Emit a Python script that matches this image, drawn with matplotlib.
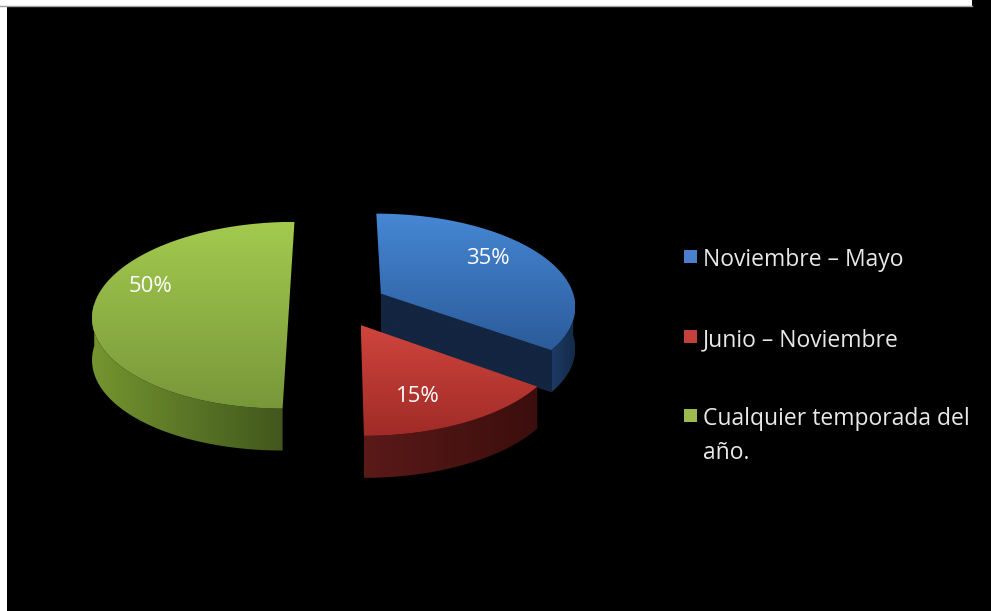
import numpy as np
import matplotlib
matplotlib.use('Agg')
import matplotlib.pyplot as plt
from matplotlib.patches import Polygon, Rectangle
from matplotlib.colors import LinearSegmentedColormap

# datos del grafico
categorias = ['Noviembre – Mayo', 'Junio – Noviembre', 'Cualquier temporada del\naño.']
valores = [35, 15, 50]
etiquetas = ['%d%%' % v for v in valores]

# colores: (cara superior arriba, abajo), (lateral izq, der), (corte), leyenda
col_top = [('#4687d4', '#2b5b9a'), ('#cf453d', '#a12b27'), ('#a3ca4e', '#78973a')]
col_side = [('#1d3b66', '#142b48'), ('#5a1a18', '#3b0e0d'), ('#74952f', '#41571d')]
col_cut = ['#132540', '#3a0e0d', '#4a6022']
col_leg = ['#4a7fcb', '#c4403a', '#9bbb4f']

# geometria de la torta 3D
CX, CY = 338, 304
RX, RY = 195, 92
K = 0.12
PROF = 42
EXPL = 0.25

def proj(X, Z):
    s = 1.0 / (1.0 + K * Z)
    return CX + RX * X * s, CY - RY * Z * s

fig = plt.figure(figsize=(9.91, 6.11), dpi=100, facecolor='white')
ax = fig.add_axes([0, 0, 1, 1])
ax.axis('off')

ax.add_patch(Rectangle((7, 7), 991, 611, facecolor='black', edgecolor='none', zorder=0))
ax.add_patch(Rectangle((972, 0), 20, 8, facecolor='black', edgecolor='none', zorder=0))
ax.plot([0, 972], [6.3, 6.3], color='#a0a0a0', lw=1.0, zorder=0)

zo = [1]

def relleno(pts, c1, c2, vertical=True):
    pts = np.asarray(pts)
    poly = Polygon(pts, closed=True, facecolor=c1, edgecolor='none', alpha=0)
    ax.add_patch(poly)
    x0, y0 = pts.min(0)
    x1, y1 = pts.max(0)
    cmap = LinearSegmentedColormap.from_list('g', [c1, c2])
    g = np.linspace(0, 1, 256)
    arr = g[:, None] if vertical else g[None, :]
    im = ax.imshow(arr, cmap=cmap, extent=(x0, x1, y1, y0), origin='upper',
                   aspect='auto', interpolation='bilinear', zorder=zo[0])
    im.set_clip_path(poly)
    zo[0] += 1

# angulos de cada porcion (sentido horario desde arriba)
angs = []
ini = 90.0
for v in valores:
    fin = ini - 360.0 * v / 100.0
    angs.append((fin, ini))
    ini = fin

porciones = []
for i, (a1, a2) in enumerate(angs):
    med = np.radians((a1 + a2) / 2)
    ox, oz = EXPL * np.cos(med), EXPL * np.sin(med)
    porciones.append((oz, i, a1, a2, ox))

# de atras hacia adelante
for oz, i, a1, a2, ox in sorted(porciones, reverse=True):
    cx, cy = proj(ox, oz)
    # borde exterior visible (mitad frontal)
    b1, b2 = max(a1, -180), min(a2, 0)
    if b2 > b1:
        t = np.radians(np.linspace(b1, b2, 120))
        xs, ys = proj(ox + np.cos(t), oz + np.sin(t))
        sup = np.column_stack([xs, ys])
        inf = np.column_stack([xs, ys + PROF])[::-1]
        relleno(np.vstack([sup, inf]), col_side[i][0], col_side[i][1], vertical=False)
    # cara de corte visible
    for a, n in ((a1, a1 - 90), (a2, a2 + 90)):
        if np.sin(np.radians(n)) < -0.3:
            rx_, ry_ = proj(ox + np.cos(np.radians(a)), oz + np.sin(np.radians(a)))
            quad = [(cx, cy), (rx_, ry_), (rx_, ry_ + PROF), (cx, cy + PROF)]
            relleno(quad, col_cut[i], col_cut[i])
    # cara superior
    t = np.radians(np.linspace(a1, a2, 200))
    xs, ys = proj(ox + np.cos(t), oz + np.sin(t))
    top = np.vstack([[cx, cy], np.column_stack([xs, ys])])
    relleno(top, col_top[i][0], col_top[i][1])

# etiquetas de porcentaje
pos_etq = [(488, 259), (418, 397), (151, 287)]
for (x, y), txt in zip(pos_etq, etiquetas):
    ax.text(x, y, txt, color='white', fontsize=16, family='Open Sans',
            ha='center', va='center', zorder=50)

# leyenda
ley_y = [257, 337, 416]
for y, cat, c in zip(ley_y, categorias, col_leg):
    ax.add_patch(Rectangle((684, y - 7), 13, 13, facecolor=c, edgecolor='none', zorder=50))
    lineas = cat.split('\n')
    for k, lin in enumerate(lineas):
        ax.text(703, y + 34 * k, lin, color='#e8e8e8', fontsize=16.5,
                family='Open Sans', ha='left', va='center_baseline', zorder=50)

ax.set_xlim(0, 991)
ax.set_ylim(611, 0)
fig.savefig('out.png', dpi=100, facecolor='white')
